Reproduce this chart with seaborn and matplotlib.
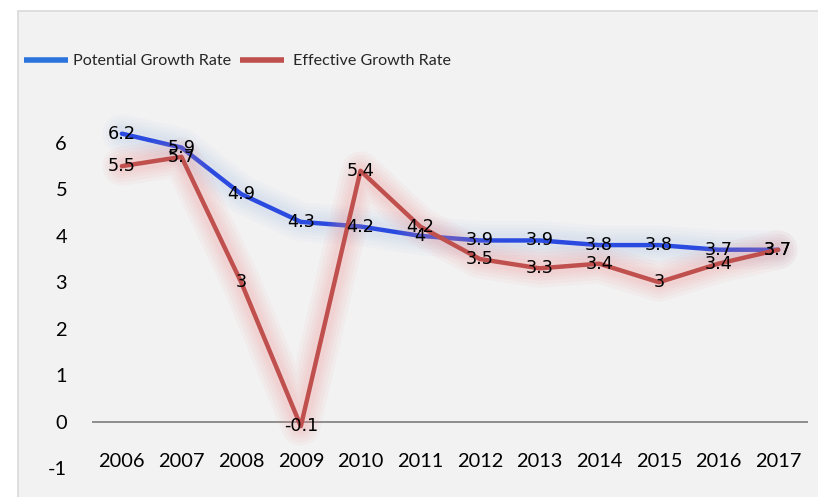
import matplotlib
matplotlib.use("Agg")
import matplotlib.pyplot as plt
import matplotlib.patheffects as pe
from matplotlib.patches import Rectangle
from matplotlib.lines import Line2D
import seaborn as sns
import pandas as pd

years = [2006, 2007, 2008, 2009, 2010, 2011, 2012, 2013, 2014, 2015, 2016, 2017]
potential = [6.2, 5.9, 4.9, 4.3, 4.2, 4.0, 3.9, 3.9, 3.8, 3.8, 3.7, 3.7]
effective = [5.5, 5.7, 3.0, -0.1, 5.4, 4.2, 3.5, 3.3, 3.4, 3.0, 3.4, 3.7]
series_names = ["Potential Growth Rate", "Effective Growth Rate"]
y_ticks = [-1, 0, 1, 2, 3, 4, 5, 6]

BLUE = "#2b4be0"
BLUE_KEY = "#2c74dd"
RED = "#c0504d"
BLUE_GLOW = "#a9c4ea"
RED_GLOW = "#f08a8a"

sns.set_theme(style="white")
plt.rcParams["font.family"] = ["Lato", "DejaVu Sans"]

df = pd.DataFrame({"year": years, "potential": potential, "effective": effective})

W, H = 818, 497
fig = plt.figure(figsize=(W / 100, H / 100), dpi=100, facecolor="white")

# light grey chart panel with a thin frame, behind everything
fig.patches.append(Rectangle((18 / W, -0.02), 1.0, 1 - 11 / H + 0.02,
                             transform=fig.transFigure, facecolor="#f2f2f2",
                             edgecolor="#d9d9d9", linewidth=1.2, zorder=-10))

ax = fig.add_axes([92 / W, 1 - 468 / H, (808 - 92) / W, (468 - 96.5) / H])
ax.set_facecolor("none")
ax.set_zorder(1)
for s in ax.spines.values():
    s.set_visible(False)


def glow(color, widths=(28, 23, 18, 14, 10), alpha=0.065):
    effects = [pe.Stroke(linewidth=w, foreground=color, alpha=alpha) for w in widths]
    return effects + [pe.Normal()]


ax.axhline(0, color="#868686", linewidth=1.3, zorder=1)

sns.lineplot(data=df, x="year", y="potential", ax=ax, color=BLUE, linewidth=3.2,
             zorder=3, solid_joinstyle="round", solid_capstyle="round")
sns.lineplot(data=df, x="year", y="effective", ax=ax, color=RED, linewidth=3.2,
             zorder=4, solid_joinstyle="round", solid_capstyle="round")
ax.lines[-2].set_path_effects(glow(BLUE_GLOW))
ax.lines[-1].set_path_effects(glow(RED_GLOW))

# value labels centred on each point
for series in (potential, effective):
    for x, v in zip(years, series):
        ax.text(x, v, f"{v:g}", ha="center", va="center", fontsize=12.7,
                family="DejaVu Sans", color="black", zorder=6)

ax.set_xlim(2005.5, 2017.5)
ax.set_ylim(-1, 7)
ax.set_xticks(years)
ax.set_xticklabels([str(y) for y in years])
ax.set_yticks(y_ticks)
ax.set_yticklabels([str(t) for t in y_ticks])
ax.tick_params(axis="x", length=0, pad=-11, labelsize=14.4, colors="black")
ax.tick_params(axis="y", length=0, pad=18, labelsize=14.4, colors="black")
ax.set_xlabel("")
ax.set_ylabel("")
ax.grid(False)

# two legend entries, each anchored at its own position
legend_specs = [
    (BLUE_KEY, series_names[0], 24, 0.32),
    (RED, series_names[1], 240, 0.6),
]
for color, name, x0, textpad in legend_specs:
    handle = Line2D([], [], color=color, linewidth=4, solid_capstyle="butt")
    fig.legend([handle], [name], loc="center left",
               bbox_to_anchor=(x0 / W, 1 - 61 / H), frameon=False,
               prop={"family": "Lato", "size": 11.6},
               handlelength=2.7, handletextpad=textpad,
               borderpad=0, borderaxespad=0)

fig.savefig("out.png", dpi=100, facecolor="white")
